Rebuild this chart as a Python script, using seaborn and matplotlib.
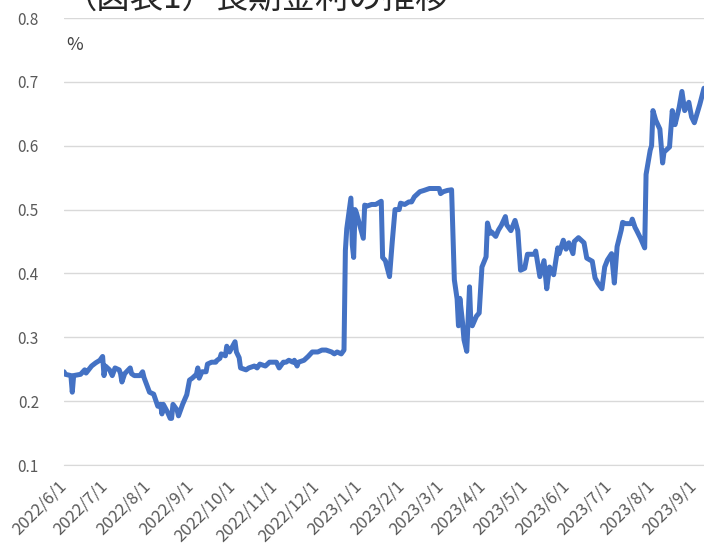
import pandas as pd
import seaborn as sns
import matplotlib.pyplot as plt
from matplotlib import transforms

# 10-year JGB yield (%)
dates = [
    "2022-06-01", "2022-06-02", "2022-06-06", "2022-06-07", "2022-06-08", "2022-06-13", "2022-06-16",
    "2022-06-17", "2022-06-21", "2022-06-24", "2022-06-27", "2022-06-29", "2022-06-30", "2022-07-01",
    "2022-07-04", "2022-07-06", "2022-07-08", "2022-07-11", "2022-07-12", "2022-07-13", "2022-07-15",
    "2022-07-19", "2022-07-20", "2022-07-22", "2022-07-26", "2022-07-28", "2022-07-29", "2022-08-02",
    "2022-08-04", "2022-08-05", "2022-08-08", "2022-08-10", "2022-08-11", "2022-08-12", "2022-08-15",
    "2022-08-17", "2022-08-18", "2022-08-19", "2022-08-22", "2022-08-23", "2022-08-26", "2022-08-29",
    "2022-08-31", "2022-09-02", "2022-09-05", "2022-09-06", "2022-09-07", "2022-09-09", "2022-09-12",
    "2022-09-13", "2022-09-16", "2022-09-19", "2022-09-20", "2022-09-22", "2022-09-23", "2022-09-26",
    "2022-09-27", "2022-09-29", "2022-10-03", "2022-10-04", "2022-10-06", "2022-10-07", "2022-10-11",
    "2022-10-13", "2022-10-17", "2022-10-19", "2022-10-21", "2022-10-25", "2022-10-28", "2022-10-31",
    "2022-11-02", "2022-11-04", "2022-11-07", "2022-11-09", "2022-11-11", "2022-11-14", "2022-11-15",
    "2022-11-17", "2022-11-18", "2022-11-22", "2022-11-25", "2022-11-28", "2022-12-02", "2022-12-05",
    "2022-12-08", "2022-12-12", "2022-12-14", "2022-12-16", "2022-12-19", "2022-12-21", "2022-12-22",
    "2022-12-23", "2022-12-26", "2022-12-27", "2022-12-28", "2022-12-29", "2022-12-30", "2023-01-04",
    "2023-01-05", "2023-01-06", "2023-01-10", "2023-01-13", "2023-01-17", "2023-01-18", "2023-01-20",
    "2023-01-23", "2023-01-25", "2023-01-27", "2023-01-30", "2023-01-31", "2023-02-03", "2023-02-06",
    "2023-02-08", "2023-02-10", "2023-02-14", "2023-02-17", "2023-02-21", "2023-02-24", "2023-02-28",
    "2023-03-01", "2023-03-03", "2023-03-06", "2023-03-09", "2023-03-10", "2023-03-11", "2023-03-13",
    "2023-03-14", "2023-03-15", "2023-03-17", "2023-03-18", "2023-03-20", "2023-03-22", "2023-03-23",
    "2023-03-24", "2023-03-27", "2023-03-29", "2023-03-31", "2023-04-03", "2023-04-04", "2023-04-06",
    "2023-04-07", "2023-04-10", "2023-04-12", "2023-04-14", "2023-04-17", "2023-04-18", "2023-04-21",
    "2023-04-24", "2023-04-26", "2023-04-28", "2023-05-01", "2023-05-03", "2023-05-08", "2023-05-09",
    "2023-05-12", "2023-05-15", "2023-05-17", "2023-05-19", "2023-05-22", "2023-05-25", "2023-05-26",
    "2023-05-29", "2023-05-31", "2023-06-02", "2023-06-05", "2023-06-06", "2023-06-09", "2023-06-12",
    "2023-06-13", "2023-06-15", "2023-06-19", "2023-06-21", "2023-06-23", "2023-06-26", "2023-06-28",
    "2023-06-30", "2023-07-03", "2023-07-05", "2023-07-07", "2023-07-10", "2023-07-11", "2023-07-13",
    "2023-07-17", "2023-07-18", "2023-07-20", "2023-07-21", "2023-07-24", "2023-07-27", "2023-07-28",
    "2023-07-31", "2023-08-01", "2023-08-02", "2023-08-04", "2023-08-07", "2023-08-09", "2023-08-10",
    "2023-08-14", "2023-08-16", "2023-08-17", "2023-08-18", "2023-08-21", "2023-08-23", "2023-08-25",
    "2023-08-28", "2023-08-30", "2023-09-01", "2023-09-05", "2023-09-08",
]
yields = [
    0.246, 0.242, 0.240, 0.214, 0.240, 0.242, 0.249,
    0.244, 0.255, 0.260, 0.264, 0.270, 0.240, 0.255,
    0.249, 0.240, 0.252, 0.249, 0.243, 0.230, 0.243,
    0.252, 0.243, 0.240, 0.240, 0.246, 0.237, 0.214,
    0.212, 0.211, 0.192, 0.195, 0.180, 0.195, 0.183,
    0.173, 0.173, 0.195, 0.186, 0.177, 0.195, 0.210,
    0.233, 0.236, 0.242, 0.252, 0.236, 0.246, 0.246,
    0.258, 0.261, 0.261, 0.264, 0.267, 0.274, 0.271,
    0.286, 0.277, 0.293, 0.277, 0.268, 0.252, 0.249,
    0.252, 0.255, 0.252, 0.258, 0.255, 0.261, 0.261,
    0.261, 0.252, 0.261, 0.261, 0.264, 0.261, 0.264,
    0.255, 0.261, 0.264, 0.270, 0.277, 0.277, 0.280,
    0.280, 0.277, 0.274, 0.277, 0.274, 0.280, 0.436,
    0.470, 0.518, 0.445, 0.425, 0.500, 0.495, 0.455,
    0.507, 0.505, 0.508, 0.508, 0.513, 0.425, 0.420,
    0.395, 0.450, 0.500, 0.500, 0.510, 0.508, 0.512,
    0.512, 0.520, 0.528, 0.530, 0.533, 0.533, 0.533,
    0.525, 0.528, 0.530, 0.531, 0.458, 0.390, 0.360,
    0.318, 0.361, 0.322, 0.296, 0.278, 0.379, 0.322,
    0.318, 0.333, 0.338, 0.410, 0.426, 0.479, 0.463,
    0.465, 0.458, 0.468, 0.475, 0.489, 0.476, 0.467,
    0.483, 0.467, 0.405, 0.408, 0.430, 0.430, 0.435,
    0.395, 0.420, 0.376, 0.410, 0.398, 0.440, 0.431,
    0.452, 0.438, 0.448, 0.431, 0.450, 0.456, 0.450,
    0.448, 0.424, 0.419, 0.393, 0.385, 0.376, 0.410,
    0.421, 0.431, 0.385, 0.442, 0.468, 0.480, 0.478,
    0.478, 0.485, 0.472, 0.468, 0.455, 0.440, 0.555,
    0.593, 0.600, 0.655, 0.640, 0.626, 0.573, 0.590,
    0.598, 0.655, 0.640, 0.633, 0.660, 0.685, 0.655,
    0.668, 0.645, 0.636, 0.665, 0.690,
]

tick_dates = pd.date_range("2022-06-01", "2023-09-01", freq="MS")
tick_labels = [f"{d.year}/{d.month}/{d.day}" for d in tick_dates]
y_ticks = [0.1, 0.2, 0.3, 0.4, 0.5, 0.6, 0.7, 0.8]

df = pd.DataFrame({"date": pd.to_datetime(dates), "yield": yields})

sns.set_style("white")
plt.rcParams["font.family"] = ["Noto Sans CJK JP", "DejaVu Sans"]

fig = plt.figure(figsize=(7.04, 5.45), dpi=100)
ax = fig.add_axes([64 / 704, 1 - 465 / 545, 1 - 64 / 704, (465 - 18) / 545])

sns.lineplot(data=df, x="date", y="yield", ax=ax, color="#4472C4", linewidth=3.6)

ax.set_xlim(pd.Timestamp("2022-06-01"), pd.Timestamp("2023-09-08"))
ax.set_ylim(0.1, 0.8)
ax.set_yticks(y_ticks)
ax.set_yticklabels([f"{v:.1f}" for v in y_ticks])
ax.set_xticks(tick_dates)
ax.set_xticklabels(tick_labels, rotation=45, ha="right", rotation_mode="anchor")
ax.set_xlabel("")
ax.set_ylabel("")

ax.grid(axis="y", color="#D9D9D9", linewidth=1)
for s in ["top", "right", "left"]:
    ax.spines[s].set_visible(False)
ax.spines["bottom"].set_color("#D9D9D9")
ax.tick_params(axis="x", length=5, color="#D9D9D9", labelsize=12, labelcolor="#595959", pad=4)
ax.tick_params(axis="y", length=0, labelsize=11, labelcolor="#595959", pad=18)

# nudge the rotated date labels a little left so the last one stays inside the figure
shift = transforms.ScaledTranslation(-6 / 100, 0, fig.dpi_scale_trans)
for lbl in ax.get_xticklabels():
    lbl.set_transform(lbl.get_transform() + shift)

fig.text(75 / 704, 1 - 45 / 545, "%", ha="center", va="center", fontsize=13, color="#404040")
fig.text(64 / 704, 1 - 8 / 545, "（図表1）長期金利の推移", ha="left", va="baseline",
         fontsize=24, color="#262626")

plt.savefig("out.png", dpi=100)
